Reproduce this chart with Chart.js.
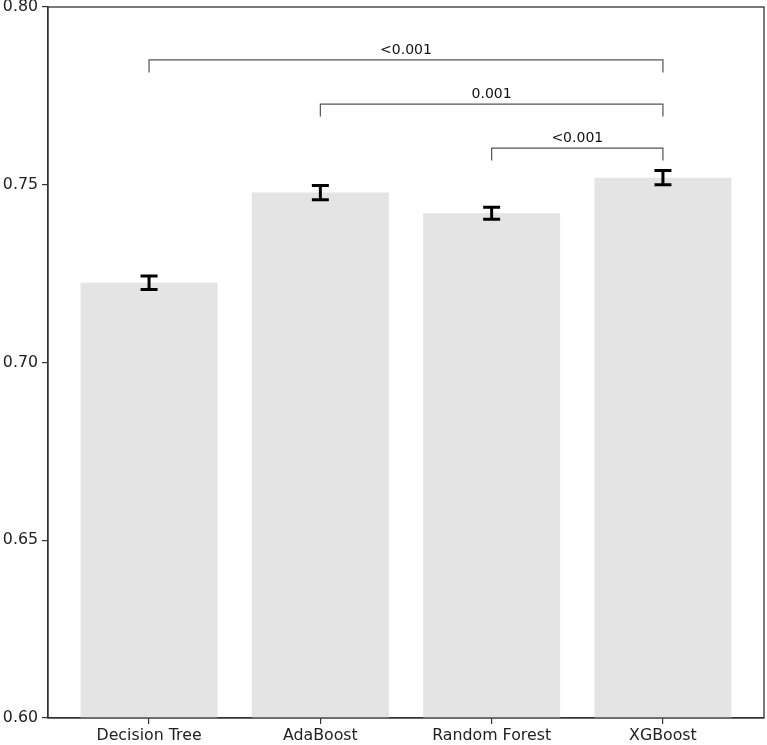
<!DOCTYPE html>
<html><head><meta charset="utf-8">
<script src="https://cdn.jsdelivr.net/npm/chart.js@4"></script>
<style>html,body{margin:0;padding:0;background:#fff}#wrap{width:767px;height:745px}</style>
</head><body><div id="wrap"><canvas id="c" width="767" height="745"></canvas></div>
<script>
const categories = ["Decision Tree", "AdaBoost", "Random Forest", "XGBoost"];
const means = [0.7224, 0.7478, 0.7420, 0.7520];
const errors = [0.0019, 0.0020, 0.0017, 0.0020];
const yTicks = [0.60, 0.65, 0.70, 0.75, 0.80];
const bracketFrom = [0, 1, 2];
const bracketTo = [3, 3, 3];
const bracketY = [0.7851, 0.7727, 0.7603];
const bracketLabels = ["<0.001", "0.001", "<0.001"];

const FONT = "'DejaVu Sans', sans-serif";

const extras = {
  id: 'extras',
  afterDatasetsDraw(chart) {
    const ctx = chart.ctx, xs = chart.scales.x, ys = chart.scales.y;
    ctx.save();
    // error bars
    ctx.strokeStyle = '#000'; ctx.lineWidth = 3;
    means.forEach((m, i) => {
      const x = xs.getPixelForValue(i);
      const y1 = ys.getPixelForValue(m - errors[i]);
      const y2 = ys.getPixelForValue(m + errors[i]);
      ctx.beginPath();
      ctx.moveTo(x, y1); ctx.lineTo(x, y2);
      ctx.moveTo(x - 8.5, y1); ctx.lineTo(x + 8.5, y1);
      ctx.moveTo(x - 8.5, y2); ctx.lineTo(x + 8.5, y2);
      ctx.stroke();
    });
    // brackets
    ctx.strokeStyle = '#555'; ctx.lineWidth = 1.2;
    ctx.fillStyle = '#111';
    ctx.font = "14px " + FONT; ctx.textAlign = 'center'; ctx.textBaseline = 'bottom';
    const drop = ys.getPixelForValue(0.75) - ys.getPixelForValue(0.7535);
    bracketFrom.forEach((a, i) => {
      const xa = xs.getPixelForValue(a), xb = xs.getPixelForValue(bracketTo[i]);
      const y = ys.getPixelForValue(bracketY[i]);
      ctx.beginPath();
      ctx.moveTo(xa, y + drop); ctx.lineTo(xa, y); ctx.lineTo(xb, y); ctx.lineTo(xb, y + drop);
      ctx.stroke();
      ctx.fillText(bracketLabels[i], (xa + xb) / 2, y - 3);
    });
    // frame
    const ca = chart.chartArea;
    ctx.strokeStyle = '#333'; ctx.lineWidth = 1.3;
    ctx.strokeRect(ca.left, ca.top, ca.right - ca.left, ca.bottom - ca.top);
    ctx.restore();
  }
};

new Chart(document.getElementById('c'), {
  type: 'bar',
  data: {
    datasets: [{
      data: means.map((v, i) => ({ x: i, y: v })),
      backgroundColor: '#e4e4e4',
      borderWidth: 0,
      categoryPercentage: 1.0,
      barPercentage: 0.8
    }]
  },
  options: {
    responsive: false,
    animation: false,
    devicePixelRatio: 1,
    layout: { padding: { left: 0, top: 7, right: 3, bottom: 0 } },
    plugins: { legend: { display: false }, tooltip: { enabled: false } },
    scales: {
      x: {
        type: 'linear', min: -0.59, max: 3.59, offset: false,
        afterBuildTicks: s => { s.ticks = categories.map((c, i) => ({ value: i })); },
        afterFit: s => { s.height = 27; s.paddingLeft = 0; s.paddingRight = 0; },
        ticks: { callback: v => categories[v], color: '#222', font: { family: FONT, size: 15.8 }, padding: 2, maxRotation: 0, autoSkip: false },
        grid: { offset: false, drawOnChartArea: false, drawTicks: true, tickLength: 6, color: '#333', lineWidth: 1.2 },
        border: { display: true, color: '#333', width: 1.3 }
      },
      y: {
        min: 0.60, max: 0.80,
        afterBuildTicks: s => { s.ticks = yTicks.map(v => ({ value: v })); },
        afterFit: s => { s.width = 48; s.paddingTop = 0; s.paddingBottom = 0; },
        ticks: { callback: v => v.toFixed(2), color: '#222', font: { family: FONT, size: 15.8 }, padding: 4 },
        grid: { drawOnChartArea: false, drawTicks: true, tickLength: 6, color: '#333', lineWidth: 1.2 },
        border: { display: true, color: '#333', width: 1.3 }
      }
    }
  },
  plugins: [extras]
});
</script></body></html>
